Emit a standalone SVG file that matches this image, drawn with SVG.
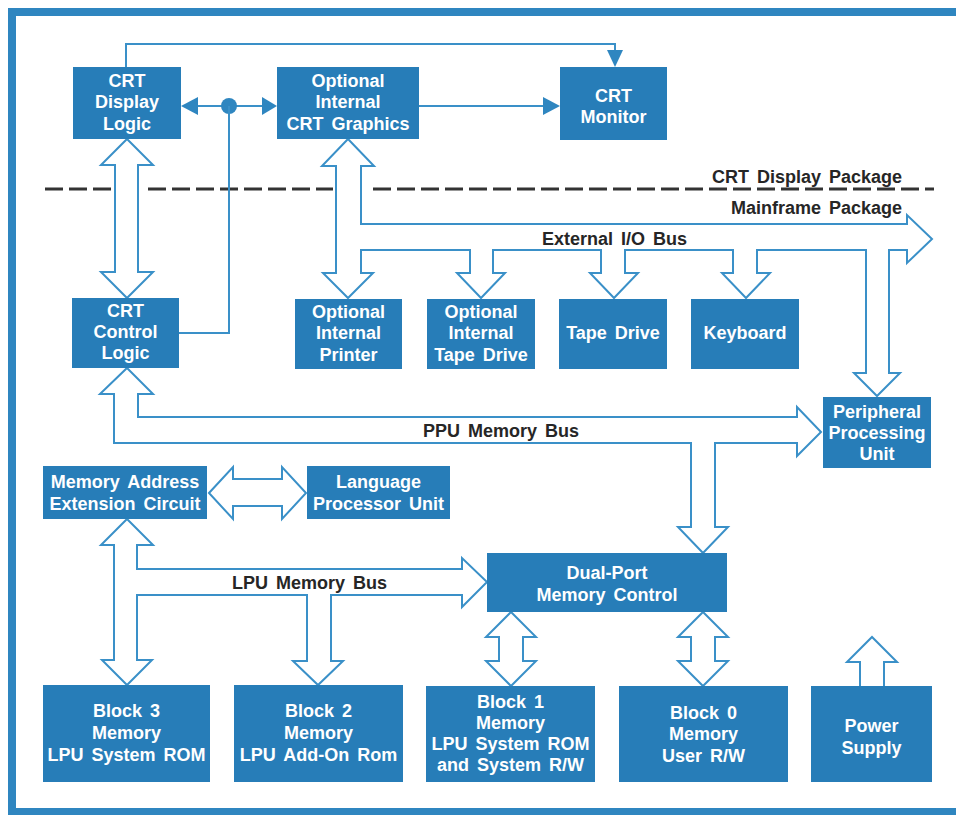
<svg xmlns="http://www.w3.org/2000/svg" width="956" height="815" viewBox="0 0 956 815">
<style>
.node{fill:#277db8}
.nt{font-family:"Liberation Sans",Arial,sans-serif;font-weight:bold;font-size:18px;fill:#fff;text-anchor:middle;word-spacing:3px}
.lbl{font-family:"Liberation Sans",Arial,sans-serif;font-weight:bold;font-size:18px;fill:#262626;word-spacing:3px}
.bus{fill:#fff;stroke:#3a90c8;stroke-width:2;stroke-linejoin:miter}
.thin{fill:none;stroke:#3a90c8;stroke-width:2}
.head{fill:#2f86c0}
.dash{stroke:#333;stroke-width:3;stroke-dasharray:18 6;fill:none}
</style>
<rect x="0" y="0" width="956" height="815" fill="#fff"/>
<path d="M1000,12 H12 V812 H1000" fill="none" stroke="#2f86c0" stroke-width="8"/>

<g id="package-divider">
<path class="dash" d="M45,189 H112 M148,189 H333 M373,189 H934"/>
<text class="lbl" x="902" y="183" text-anchor="end">CRT Display Package</text>
<text class="lbl" x="902" y="214" text-anchor="end">Mainframe Package</text>
</g>

<g id="connectors">
<path class="thin" d="M126,67 V44 H615 V52"/>
<polygon class="head" points="607,50 623,50 615,67"/>
<path class="thin" d="M196,106 H265"/>
<polygon class="head" points="198,97 198,115 181,106"/>
<polygon class="head" points="262,97 262,115 277,106"/>
<circle class="head" cx="229" cy="106" r="8"/>
<path class="thin" d="M229,106 V333 H179"/>
<path class="thin" d="M419,106 H545"/>
<polygon class="head" points="543,97 543,115 560,106"/>

<path class="bus" d="M127,139 L153,165 L138,165 L138,272 L153,272 L127,298 L101,272 L115,272 L115,165 L101,165 Z"/>
<path class="bus" d="M348,139 L374,166 L361,166 L361,224 L907,224 L907,215 L932,239 L907,263 L907,250 L889,250 L889,373 L900,373 L877,396 L854,373 L866,373 L866,250 L757,250 L757,273 L770,273 L746,298 L722,273 L733,273 L733,250 L625,250 L625,273 L638,273 L614,298 L590,273 L601,273 L601,250 L493,250 L493,273 L505,273 L481,298 L457,273 L470,273 L470,250 L361,250 L361,273 L373,273 L348,298 L323,273 L336,273 L336,166 L322,166 Z"/>
<path class="bus" d="M127,368 L153,394 L138,394 L138,417 L797,417 L797,407 L821,432 L797,456 L797,443 L715,443 L715,527 L728,527 L703,553 L678,527 L691,527 L691,443 L114,443 L114,394 L100,394 Z"/>
<path class="bus" d="M209,493 L233,467 L233,479 L282,479 L282,467 L306,493 L282,519 L282,506 L233,506 L233,519 Z"/>
<path class="bus" d="M127,519 L153,545 L137,545 L137,569 L462,569 L462,558 L487,582 L462,607 L462,595 L331,595 L331,661 L343,661 L318,685 L293,661 L307,661 L307,595 L137,595 L137,660 L152,660 L127,685 L102,660 L114,660 L114,545 L101,545 Z"/>
<path class="bus" d="M511,612 L536,637 L523,637 L523,661 L536,661 L511,686 L486,661 L499,661 L499,637 L486,637 Z"/>
<path class="bus" d="M703,612 L728,637 L715,637 L715,661 L728,661 L703,686 L678,661 L691,661 L691,637 L678,637 Z"/>
<path class="bus" d="M860,686 L860,662 L847,662 L872,637 L897,662 L884,662 L884,686"/>

<text class="lbl" x="542" y="245">External I/O Bus</text>
<text class="lbl" x="423" y="437">PPU Memory Bus</text>
<text class="lbl" x="232" y="589">LPU Memory Bus</text>
</g>

<g id="crt-display-logic">
<rect class="node" x="73" y="67" width="108" height="72"/>
<text class="nt" x="127" y="87">CRT</text>
<text class="nt" x="127" y="108">Display</text>
<text class="nt" x="127" y="130">Logic</text>
</g>
<g id="optional-internal-crt-graphics">
<rect class="node" x="277" y="67" width="142" height="72"/>
<text class="nt" x="348" y="87">Optional</text>
<text class="nt" x="348" y="108">Internal</text>
<text class="nt" x="348" y="130">CRT Graphics</text>
</g>
<g id="crt-monitor">
<rect class="node" x="560" y="67" width="107" height="73"/>
<text class="nt" x="613.5" y="102">CRT</text>
<text class="nt" x="613.5" y="123">Monitor</text>
</g>
<g id="crt-control-logic">
<rect class="node" x="72" y="298" width="107" height="70"/>
<text class="nt" x="125.5" y="317">CRT</text>
<text class="nt" x="125.5" y="338">Control</text>
<text class="nt" x="125.5" y="359">Logic</text>
</g>
<g id="optional-internal-printer">
<rect class="node" x="295" y="299" width="107" height="70"/>
<text class="nt" x="348.5" y="318">Optional</text>
<text class="nt" x="348.5" y="339">Internal</text>
<text class="nt" x="348.5" y="361">Printer</text>
</g>
<g id="optional-internal-tape-drive">
<rect class="node" x="427" y="299" width="108" height="70"/>
<text class="nt" x="481" y="318">Optional</text>
<text class="nt" x="481" y="339">Internal</text>
<text class="nt" x="481" y="361">Tape Drive</text>
</g>
<g id="tape-drive">
<rect class="node" x="559" y="299" width="108" height="70"/>
<text class="nt" x="613" y="339">Tape Drive</text>
</g>
<g id="keyboard">
<rect class="node" x="691" y="299" width="108" height="70"/>
<text class="nt" x="745" y="339">Keyboard</text>
</g>
<g id="peripheral-processing-unit">
<rect class="node" x="823" y="397" width="108" height="71"/>
<text class="nt" x="877" y="418">Peripheral</text>
<text class="nt" x="877" y="439">Processing</text>
<text class="nt" x="877" y="460">Unit</text>
</g>
<g id="memory-address-extension-circuit">
<rect class="node" x="43" y="466" width="164" height="53"/>
<text class="nt" x="125" y="488">Memory Address</text>
<text class="nt" x="125" y="510">Extension Circuit</text>
</g>
<g id="language-processor-unit">
<rect class="node" x="307" y="466" width="143" height="53"/>
<text class="nt" x="378.5" y="488">Language</text>
<text class="nt" x="378.5" y="510">Processor Unit</text>
</g>
<g id="dual-port-memory-control">
<rect class="node" x="487" y="553" width="240" height="59"/>
<text class="nt" x="607" y="579">Dual-Port</text>
<text class="nt" x="607" y="601">Memory Control</text>
</g>
<g id="block-3-memory">
<rect class="node" x="43" y="685" width="167" height="97"/>
<text class="nt" x="126.5" y="717">Block 3</text>
<text class="nt" x="126.5" y="739">Memory</text>
<text class="nt" x="126.5" y="761">LPU System ROM</text>
</g>
<g id="block-2-memory">
<rect class="node" x="234" y="685" width="169" height="97"/>
<text class="nt" x="318.5" y="717">Block 2</text>
<text class="nt" x="318.5" y="739">Memory</text>
<text class="nt" x="318.5" y="761">LPU Add-On Rom</text>
</g>
<g id="block-1-memory">
<rect class="node" x="426" y="686" width="169" height="96"/>
<text class="nt" x="510.5" y="708">Block 1</text>
<text class="nt" x="510.5" y="729">Memory</text>
<text class="nt" x="510.5" y="750">LPU System ROM</text>
<text class="nt" x="510.5" y="771">and System R/W</text>
</g>
<g id="block-0-memory">
<rect class="node" x="619" y="686" width="169" height="96"/>
<text class="nt" x="703.5" y="719">Block 0</text>
<text class="nt" x="703.5" y="740">Memory</text>
<text class="nt" x="703.5" y="762">User R/W</text>
</g>
<g id="power-supply">
<rect class="node" x="811" y="686" width="121" height="96"/>
<text class="nt" x="871.5" y="732">Power</text>
<text class="nt" x="871.5" y="754">Supply</text>
</g>
</svg>
